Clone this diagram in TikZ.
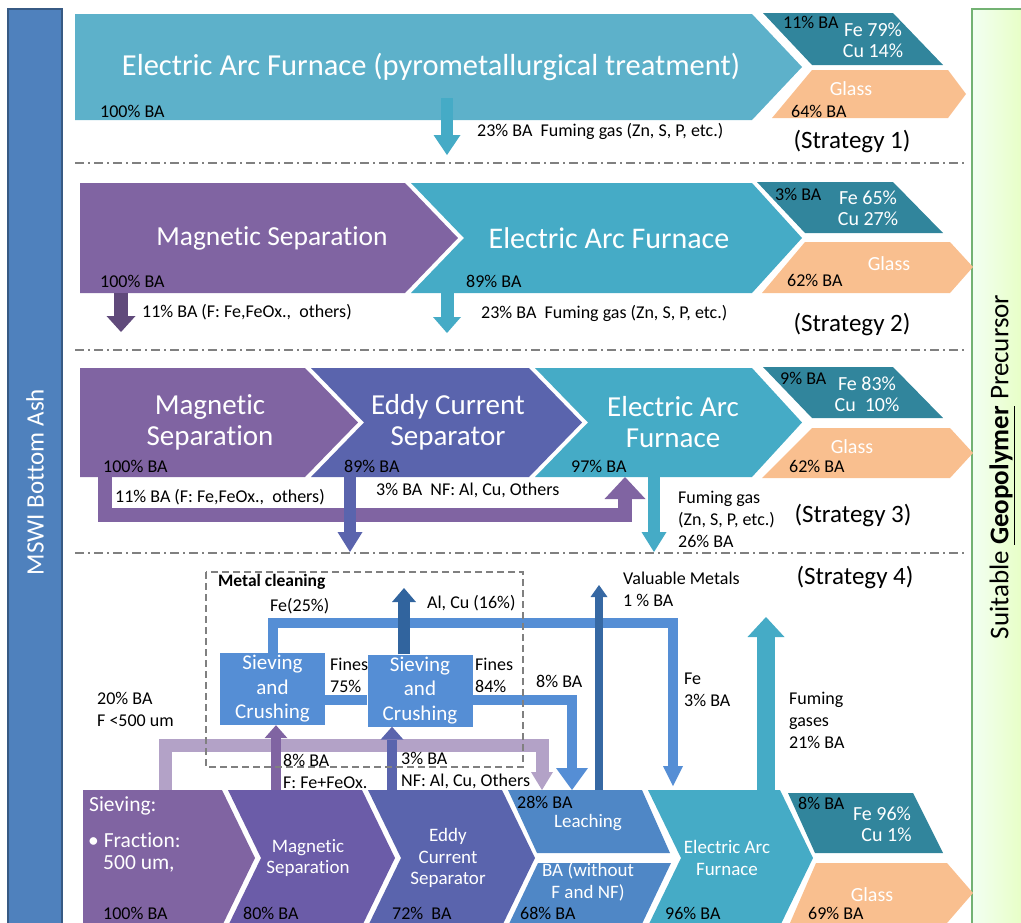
\documentclass[tikz,border=0pt]{standalone}
\usepackage{fontspec}
\setmainfont{Carlito}[Ligatures=NoCommon]
\usetikzlibrary{arrows.meta}
\definecolor{ashblue}{HTML}{4F81BD}
\definecolor{eafone}{HTML}{5DB1CA}
\definecolor{eaf}{HTML}{45ABC6}
\definecolor{magn}{HTML}{8064A2}
\definecolor{magnb}{HTML}{6B5CA8}
\definecolor{darkmag}{HTML}{604A7B}
\definecolor{eddy}{HTML}{5A64AD}
\definecolor{leach}{HTML}{4F87C6}
\definecolor{metal}{HTML}{31859C}
\definecolor{glass}{HTML}{F9BF8F}
\definecolor{clean}{HTML}{558ED5}
\definecolor{darkb}{HTML}{31649E}
\definecolor{lilac}{HTML}{B3A2C7}
\newcommand{\chev}[7]{% colour, left, right, top, bottom, notch, tip
  \fill[#1] (#2,#4) -- (#3,#4) -- ({#3+#7},{(#4+#5)/2}) -- (#3,#5) -- (#2,#5)
    -- ({#2+#6},{(#4+#5)/2}) -- cycle;}
\tikzset{
  lbl/.style={anchor=west,inner sep=0pt,align=left,font=\fontsize{18}{22}\selectfont},
  wtxt/.style={text=white,align=center,inner sep=0pt,font=\fontsize{29}{31}\selectfont},
  wsmall/.style={text=white,align=center,inner sep=0pt,font=\fontsize{19}{21.5}\selectfont},
  wmid/.style={text=white,inner sep=0pt,font=\fontsize{20}{24}\selectfont},
  strat/.style={inner sep=0pt,font=\fontsize{25}{30}\selectfont},
  sepline/.style={black!50,line width=1.5pt,dash pattern=on 9pt off 4pt on 2pt off 4pt},
  bhead/.style 2 args={line cap=butt,line join=miter,
    -{Triangle[length=#1,width=#2,line width=0pt]}},
  cbox/.style={fill=clean,text=white,align=center,inner sep=0pt,
    minimum width=105pt,minimum height=72pt,font=\fontsize{21}{24.5}\selectfont},
}
\begin{document}
\begin{tikzpicture}[x=1pt,y=-1pt]
\useasboundingbox (0,0) rectangle (1021,922);
% side bars
\fill[ashblue,draw=ashblue!70!black,line width=1.5pt] (8,9) rectangle (62,935);
\node[rotate=90,text=white,font=\fontsize{25}{30}\selectfont] (ash) at (35,482) {MSWI Bottom Ash};
\shade[left color=green!5!white,right color=green!40!yellow!25!white] (972,9) rectangle (1030,935);
\draw[green!45!black!55,line width=1.5pt] (1030,9) -- (972,9) -- (972,935);
\node[rotate=90,font=\fontsize{27}{32}\selectfont] (geo) at (1002,467)
  {Suitable \textbf{\underline{Geopolymer}} Precursor};
\foreach \y in {163,350,553}
  \draw[sepline] (75,\y) -- (965,\y);

% Strategy 1
\chev{eafone}{75}{752}{14}{120}{0}{50}
\fill[metal] (763,13) -- (893,13) -- (943,65) -- (812,65) -- cycle;
\fill[glass] (812,70) -- (948,70) -- (966,94) -- (948,118) -- (772,118) -- cycle;
\node[wtxt,font=\fontsize{30.5}{31}\selectfont] (eaf1) at (431,67) {Electric Arc Furnace (pyrometallurgical treatment)};
\node[lbl] (in1) at (100,111) {100\% BA};
\coordinate (f1out) at (447,98); \coordinate (f1end) at (447,155);
\draw[eaf,line width=12pt,bhead={20pt}{27pt}] (f1out) -- (f1end);
\node[lbl] (gas1) at (477,131) {23\% BA\ \ Fuming gas (Zn, S, P, etc.)};
\node[lbl] (met1) at (783,22) {11\% BA};
\node[lbl,font=\fontsize{20}{21}\selectfont,text=white,align=center,anchor=center] (fe1) at (873,40) {Fe 79\%\\Cu 14\%};
\node[wmid] (gl1) at (851,89) {Glass};
\node[lbl] (gb1) at (791,111) {64\% BA};
\node[strat] (st1) at (852,141) {(Strategy 1)};

% Strategy 2
\chev{magn}{80}{405}{183}{293}{0}{53}
\chev{eaf}{411}{752}{183}{293}{53}{50}
\node[wtxt,font=\fontsize{27.5}{31}\selectfont] (ms2) at (272,238) {Magnetic Separation};
\node[wtxt,font=\fontsize{30}{31}\selectfont] (eaf2) at (609,238) {Electric Arc Furnace};
\node[lbl] (in2) at (100,281) {100\% BA};
\node[lbl] (mid2) at (466,281) {89\% BA};
\fill[metal] (757,182) -- (893,182) -- (943,233) -- (805,233) -- cycle;
\fill[glass] (805,242) -- (950,242) -- (973,267) -- (950,293) -- (762,293) -- cycle;
\node[lbl] (met2) at (775,194) {3\% BA};
\node[lbl,font=\fontsize{20}{21}\selectfont,text=white,align=center,anchor=center] (fe2) at (868,208) {Fe 65\%\\Cu 27\%};
\node[wmid] (gl2) at (889,264) {Glass};
\node[lbl] (gb2) at (787,280) {62\% BA};
\coordinate (m2out) at (121,293); \coordinate (m2end) at (121,332);
\coordinate (f2out) at (447,293); \coordinate (f2end) at (447,333);
\draw[darkmag,line width=14pt,bhead={16pt}{29pt}] (m2out) -- (m2end);
\draw[eaf,line width=13pt,bhead={16pt}{28pt}] (f2out) -- (f2end);
\node[lbl] (fx2) at (142,312) {11\% BA (F: Fe,FeOx.,\ \ others)};
\node[lbl] (gas2) at (481,313) {23\% BA\ \ Fuming gas (Zn, S, P, etc.)};
\node[strat] (st2) at (852,324) {(Strategy 2)};

% Strategy 3
\chev{magn}{80}{305}{368}{477}{0}{53}
\chev{eddy}{311}{529}{368}{477}{53}{53}
\chev{eaf}{535}{752}{368}{477}{53}{50}
\node[wtxt] (ms3) at (210,422) {Magnetic\\Separation};
\node[wtxt] (ec3) at (448,422) {Eddy Current\\Separator};
\node[wtxt] (eaf3) at (673,422) {Electric Arc\\Furnace};
\node[lbl] (in3) at (103,466) {100\% BA};
\node[lbl] (mid3) at (344,466) {89\% BA};
\node[lbl] (out3) at (571,466) {97\% BA};
\fill[metal] (763,367) -- (893,367) -- (943,418) -- (812,418) -- cycle;
\fill[glass] (812,428) -- (950,428) -- (973,453) -- (950,478) -- (762,478) -- cycle;
\node[lbl] (met3) at (780,378) {9\% BA};
\node[lbl,font=\fontsize{20}{21}\selectfont,text=white,align=center,anchor=center] (fe3) at (867,394) {Fe 83\%\\Cu\ \ 10\%};
\node[wmid] (gl3) at (852,447) {Glass};
\node[lbl] (gb3) at (789,466) {62\% BA};
\coordinate (m3out) at (105,477); \coordinate (m3y) at (0,515);
\coordinate (eaf3in) at (625,477);
\coordinate (ec3out) at (350,477); \coordinate (ec3end) at (350,552);
\coordinate (f3out) at (654,477); \coordinate (f3end) at (654,552);
\draw[magn,line width=14pt,bhead={22pt}{41pt}] (m3out) -- (m3out |- m3y) -| (eaf3in);
\draw[eddy,line width=12pt,bhead={20pt}{25pt}] (ec3out) -- (ec3end);
\draw[eaf,line width=12pt,bhead={20pt}{25pt}] (f3out) -- (f3end);
\node[lbl] (fx3) at (115,497) {11\% BA (F: Fe,FeOx.,\ \ others)};
\node[lbl] (nf3) at (376,490) {3\% BA\ \ NF: Al, Cu, Others};
\node[lbl] (gas3) at (678,519) {Fuming gas\\(Zn, S, P, etc.)\\26\% BA};
\node[strat] (st3) at (853,515) {(Strategy 3)};

% Strategy 4
\chev{magn}{83}{222}{790}{926}{0}{33}
\chev{magnb}{228}{362}{790}{926}{33}{33}
\chev{eddy}{368}{502}{790}{926}{33}{33}
\fill[leach] (508,790) -- (642,790) -- (670,853) -- (537,853) -- cycle;
\fill[leach] (538,863) -- (671,863) -- (641,926) -- (508,926) -- cycle;
\chev{eaf}{648}{780}{790}{926}{33}{33}
\fill[metal] (788,793) -- (913,793) -- (943,853) -- (815,853) -- cycle;
\fill[glass] (816,863) -- (947,863) -- (973,893) -- (947,923) -- (790,923) -- cycle;
\node[wmid,font=\fontsize{21.5}{24}\selectfont,anchor=west] (sv4) at (89,806) {Sieving:};
\node[wmid,font=\fontsize{21.5}{24}\selectfont,anchor=west] (fr4) at (88,840) {\textbullet\ Fraction:};
\node[wmid,font=\fontsize{21.5}{24}\selectfont,anchor=west] (um4) at (103,864) {500 um,};
\node[wsmall] (ms4) at (308,858) {Magnetic\\Separation};
\node[wsmall] (ec4) at (448,858) {Eddy\\Current\\Separator};
\node[wsmall] (le4) at (588,823) {Leaching};
\node[wsmall] (ba4) at (588,882) {BA (without\\F and NF)};
\node[wsmall] (eaf4) at (727,858) {Electric Arc\\Furnace};
\node[lbl] (in4) at (103,913) {100\% BA};
\node[lbl] (p80) at (243,913) {80\% BA};
\node[lbl] (p72) at (392,913) {72\%\ \ BA};
\node[lbl] (p28) at (517,802) {28\% BA};
\node[lbl] (p68) at (520,913) {68\% BA};
\node[lbl] (p96) at (665,913) {96\% BA};
\node[lbl] (met4) at (798,803) {8\% BA};
\node[lbl,font=\fontsize{20}{21}\selectfont,text=white,align=center,anchor=center] (fe4) at (882,824) {Fe 96\%\\\ \ Cu 1\%};
\node[wmid] (gl4) at (872,895) {Glass};
\node[lbl] (gb4) at (808,913) {69\% BA};
\node[strat] (st4) at (855,577) {(Strategy 4)};
% metal cleaning
\node[cbox] (sc1) at (272.5,689) {Sieving\\and\\Crushing};
\node[cbox] (sc2) at (420,690.5) {Sieving\\and\\Crushing};
\coordinate (sievout) at (165,790); \coordinate (lilacy) at (0,745);
\coordinate (leachin2) at (542,790);
\coordinate (magin) at (276,790); \coordinate (eddyin) at (392,790);
\coordinate (fny) at (0,700); \coordinate (leachin) at (572,790);
\coordinate (fey) at (0,623); \coordinate (feend) at (673,786);
\coordinate (alcu) at (404,588);
\coordinate (vm0) at (599,790); \coordinate (vm1) at (599,585);
\coordinate (fg0) at (766,790); \coordinate (fg1) at (766,617);
\draw[lilac,line width=13pt,bhead={18pt}{22pt}] (sievout) -- (sievout |- lilacy) -| (leachin2);
\draw[clean,line width=10pt,line cap=butt] (sc1.east |- fny) -- (sc2.west |- fny);
\draw[clean,line width=10pt,bhead={22pt}{32pt}] (sc2.east |- fny) -| (leachin);
\draw[clean,line width=10pt,bhead={20pt}{20pt}] (sc1.north) -- (sc1.north |- fey) -| (feend);
\draw[magn,line width=10pt,bhead={13pt}{23pt}] (magin) -- (magin |- sc1.south);
\draw[eddy,line width=10pt,bhead={13pt}{23pt}] (eddyin) -- (eddyin |- sc2.south);
\draw[darkb,line width=12pt,bhead={14pt}{24pt}] (alcu |- sc2.north) -- (alcu);
\draw[darkb!85!ashblue,line width=8pt,bhead={12pt}{17pt}] (vm0) -- (vm1);
\draw[eaf,line width=18pt,bhead={20pt}{37pt}] (fg0) -- (fg1);
\draw[black!50,line width=1.5pt,dash pattern=on 7pt off 4pt] (206,572) rectangle (523,767);
\node[lbl,font=\bfseries\fontsize{17.5}{20}\selectfont] (mc) at (218,582) {Metal cleaning};
\node[lbl] (fe25) at (270,606) {Fe(25\%)};
\node[lbl] (alcul) at (427,603) {Al, Cu (16\%)};
\node[lbl] (fn75) at (330,675.5) {Fines\\75\%};
\node[lbl] (fn84) at (475,675.5) {Fines\\84\%};
\node[lbl] (p8) at (536,681) {8\% BA};
\node[lbl] (p20) at (97,709) {20\% BA\\F <500 um};
\node[lbl] (fx4) at (283,771) {8\% BA\\F: Fe+FeOx.};
\node[lbl] (nf4) at (401,771) {3\% BA\\NF: Al, Cu, Others};
\node[lbl] (vm) at (623,589) {Valuable Metals\\1 \% BA};
\node[lbl] (fe3) at (684,689.5) {Fe\\3\% BA};
\node[lbl] (fg) at (789,720) {Fuming\\gases\\21\% BA};
\end{tikzpicture}
\end{document}
